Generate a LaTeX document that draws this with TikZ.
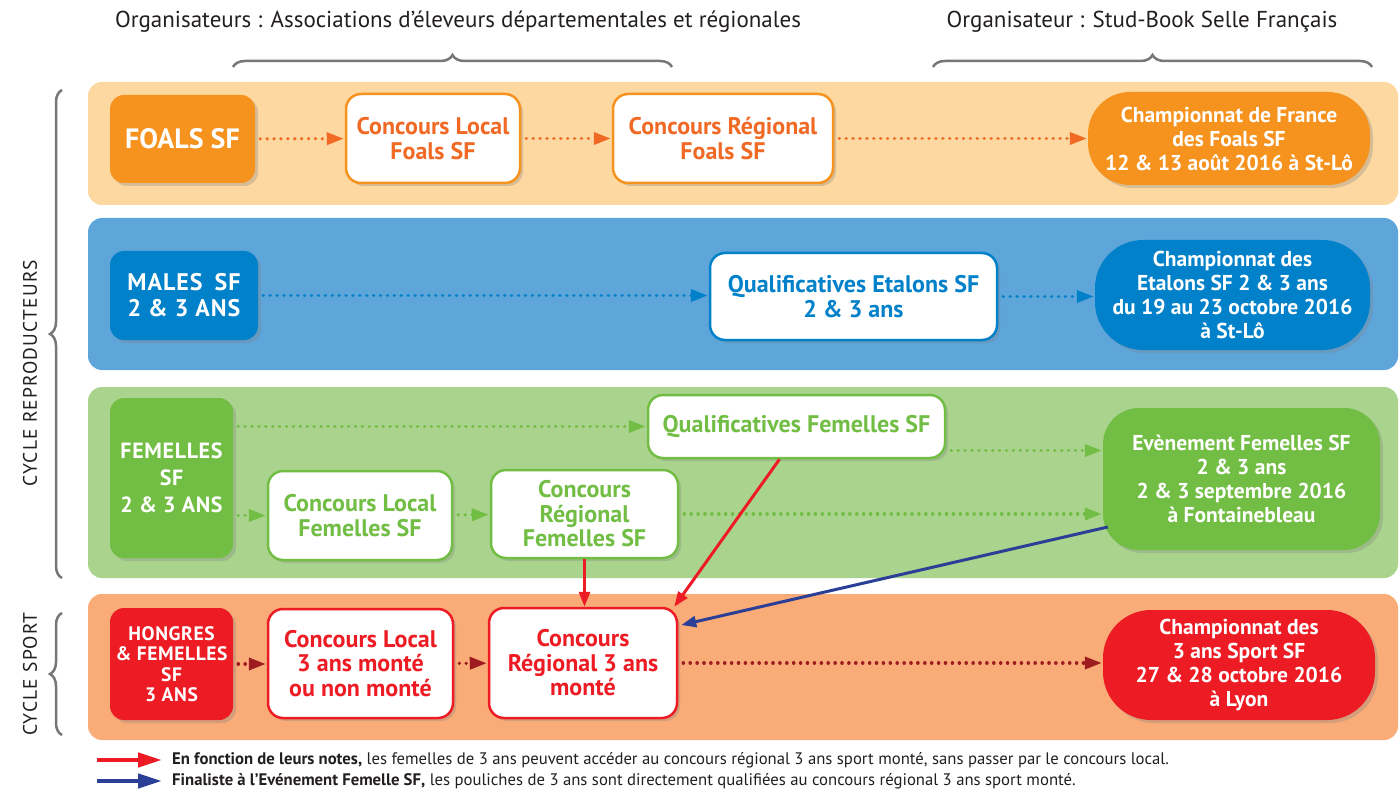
\documentclass[tikz,border=0pt]{standalone}
\usepackage{fontspec}
\setmainfont{PT Sans}
\usetikzlibrary{arrows.meta,shadows,decorations.pathreplacing,calc}

\definecolor{bandorange}{HTML}{FDD8A0}
\definecolor{bandblue}{HTML}{5EA5DA}
\definecolor{bandgreen}{HTML}{AAD48D}
\definecolor{bandsalmon}{HTML}{F9AC78}
\definecolor{foalorange}{HTML}{F6921E}
\definecolor{foaltext}{HTML}{F06A25}
\definecolor{maleblue}{HTML}{0081C9}
\definecolor{femgreen}{HTML}{72BD44}
\definecolor{sportred}{HTML}{ED1C24}
\definecolor{sportdark}{HTML}{9E1B20}
\definecolor{finalblue}{HTML}{2B3F97}
\definecolor{bracegray}{HTML}{777777}
\definecolor{inkgray}{HTML}{231F20}

\begin{document}
\begin{tikzpicture}[x=1pt,y=-1pt,
  band/.style={rounded corners=14pt},
  srcbox/.style={rounded corners=14pt, align=center, text=white, inner sep=0pt,
    drop shadow={opacity=0.3, shadow xshift=3pt, shadow yshift=-3pt}},
  stepbox/.style={draw, line width=2.5pt, fill=white, rounded corners=15pt, align=center, inner sep=0pt,
    font=\fontsize{24}{24.5}\selectfont\bfseries,
    drop shadow={opacity=0.3, shadow xshift=3pt, shadow yshift=-3pt}},
  finalbox/.style={rounded corners=42pt, align=center, text=white, inner sep=0pt,
    font=\fontsize{21.5}{24}\selectfont\bfseries,
    drop shadow={opacity=0.3, shadow xshift=3pt, shadow yshift=-3pt}},
  flow/.style={line width=3.5pt, line cap=round, dash pattern=on 0.1pt off 6.8pt,
    -{Triangle[length=17pt,width=12pt]}, shorten <=5pt, shorten >=1pt},
  jump/.style={line width=3pt, -{Triangle[length=15pt,width=11pt]}},
  keyarrow/.style={line width=4.5pt, -{Triangle[length=24pt,width=14pt]}},
  cyclebrace/.style={decorate, decoration={brace, amplitude=12pt}, line width=2.5pt, color=bracegray},
]
\useasboundingbox (0,0) rectangle (1399,791);
\fill[white] (0,0) rectangle (1399,791);
% Drawing headers and braces
\node[text=inkgray, font=\fontsize{23}{26}\selectfont] (orgassoc) at (458,22) {Organisateurs : Associations d’éleveurs départementales et régionales};
\node[text=inkgray, font=\fontsize{23}{26}\selectfont] (orgsf) at (1142,22) {Organisateur : Stud-Book Selle Français};
\draw[cyclebrace] (233,67) -- (672,67);
\draw[cyclebrace] (933,67) -- (1372,67);
\draw[cyclebrace] (62,578) -- (62,90);
\draw[cyclebrace] (62,735) -- (62,613);
\node[rotate=90, text=inkgray, font=\fontsize{19.5}{22}\selectfont\addfontfeatures{LetterSpace=6}] (cyclerepro) at (30,373) {CYCLE REPRODUCTEURS};
\node[rotate=90, text=inkgray, font=\fontsize{19.5}{22}\selectfont\addfontfeatures{LetterSpace=6}] (cyclesport) at (30,674) {CYCLE SPORT};
% Done with headers; drawing bands
\fill[band, bandorange] (88,82) rectangle (1398,205);
\fill[band, bandblue] (88,218) rectangle (1398,370);
\fill[band, bandgreen] (88,387) rectangle (1398,578);
\fill[band, bandsalmon] (88,594) rectangle (1398,740);
% Row 1: foals
\node[srcbox, fill=foalorange, minimum width=145pt, minimum height=88pt, font=\fontsize{28}{30}\selectfont\bfseries] (foals) at (182.5,139) {FOALS SF};
\node[stepbox, draw=foalorange, text=foaltext, minimum width=174pt, minimum height=89pt] (locfoals) at (433,138.5) {Concours Local\\Foals SF};
\node[stepbox, draw=foalorange, text=foaltext, minimum width=220pt, minimum height=89pt] (regfoals) at (723,138.5) {Concours Régional\\Foals SF};
\node[finalbox, fill=foalorange, minimum width=282pt, minimum height=93pt] (champfoals) at (1229,138.5) {Championnat de France\\des Foals SF\\12 \& 13 août 2016 à St-Lô};
\draw[flow, foaltext] (foals) -- (locfoals);
\draw[flow, foaltext] (locfoals) -- (regfoals);
\draw[flow, foaltext] (regfoals) -- (champfoals);
% Row 2: males
\node[srcbox, fill=maleblue, minimum width=148pt, minimum height=89pt, font=\fontsize{24}{26}\selectfont\bfseries\addfontfeatures{LetterSpace=4}] (males) at (184,295.5) {MALES\enspace SF\\2 \& 3 ANS};
\node[stepbox, draw=maleblue, text=maleblue, minimum width=287pt, minimum height=87pt] (qualetalons) at (853.5,296.5) {Qualificatives Etalons SF\\2 \& 3 ans};
\node[finalbox, fill=maleblue, minimum width=275pt, minimum height=110pt, rounded corners=48pt] (champetalons) at (1232.5,295) {Championnat des\\Etalons SF 2 \& 3 ans\\du 19 au 23 octobre 2016\\à St-Lô};
\draw[flow, maleblue] (males) -- (males -| qualetalons.west);
\draw[flow, maleblue] (qualetalons) -- (qualetalons -| champetalons.west);
% Row 3: femelles
\node[srcbox, fill=femgreen, minimum width=123pt, minimum height=160pt, font=\fontsize{22}{27}\selectfont\bfseries\addfontfeatures{LetterSpace=3}] (femelles) at (171.5,478) {FEMELLES\\SF\\2 \& 3 ANS};
\node[stepbox, draw=femgreen, text=femgreen, minimum width=297pt, minimum height=63pt] (qualfem) at (796.5,426.5) {Qualificatives Femelles SF};
\node[stepbox, draw=femgreen, text=femgreen, minimum width=184pt, minimum height=89pt] (locfem) at (360,515.5) {Concours Local\\Femelles SF};
\node[stepbox, draw=femgreen, text=femgreen, minimum width=187pt, minimum height=88pt] (regfem) at (584.5,514) {Concours\\Régional\\Femelles SF};
\node[finalbox, fill=femgreen, minimum width=277pt, minimum height=142pt, rounded corners=36pt] (evtfem) at (1241.5,479) {Evènement Femelles SF\\2 \& 3 ans\\2 \& 3 septembre 2016\\à Fontainebleau};
\coordinate (qualfemout) at ($(qualfem.east)+(0,24)$);
\draw[flow, femgreen] (femelles.east |- qualfem.west) -- (qualfem.west);
\draw[flow, femgreen] (qualfemout) -- (qualfemout -| evtfem.west);
\draw[flow, femgreen] (femelles.east |- locfem.west) -- (locfem.west);
\draw[flow, femgreen] (locfem) -- (regfem);
\draw[flow, femgreen] (regfem) -- (regfem -| evtfem.west);
% Row 4: sport
\node[srcbox, fill=sportred, minimum width=123pt, minimum height=112pt, font=\fontsize{19.5}{20.5}\selectfont\bfseries\addfontfeatures{LetterSpace=3}] (hongres) at (171.5,664) {HONGRES\\\& FEMELLES\\SF\\3 ANS};
\node[stepbox, draw=sportred, text=sportred, minimum width=185pt, minimum height=109pt] (locsport) at (360.5,663.5) {Concours Local\\3 ans monté\\ou non monté};
\node[stepbox, draw=sportred, text=sportred, minimum width=188pt, minimum height=110pt] (regsport) at (583,663) {Concours\\Régional 3 ans\\monté};
\node[finalbox, fill=sportred, minimum width=272pt, minimum height=110pt, rounded corners=48pt] (champsport) at (1239,665) {Championnat des\\3 ans Sport SF\\27 \& 28 octobre 2016\\à Lyon};
\draw[flow, sportdark] (hongres) -- (hongres -| locsport.west);
\draw[flow, sportdark] (locsport) -- (regsport);
\draw[flow, sportdark] (regsport) -- (regsport -| champsport.west);
% Done with rows; drawing shortcuts
\draw[jump, sportred] (regfem.south) -- (regfem.south |- regsport.north);
\draw[jump, sportred] ([xshift=-17pt]qualfem.south) -- ([xshift=-4pt]regsport.north east);
\draw[jump, finalblue] ($(evtfem.west)+(5,48)$) -- ($(regsport.east)+(3,-38)$);
% Done with shortcuts; drawing key
\coordinate (keyreda) at (97,760);
\coordinate (keyredb) at (162,760);
\coordinate (keybluea) at (97,781);
\coordinate (keyblueb) at (162,781);
\draw[keyarrow, sportred] (keyreda) -- (keyredb);
\draw[keyarrow, finalblue] (keybluea) -- (keyblueb);
\node[anchor=west, text=inkgray, font=\fontsize{16.7}{18}\selectfont, inner sep=0pt] (keyred) at (172,760) {\textbf{En fonction de leurs notes,} les femelles de 3 ans peuvent accéder au concours régional 3 ans sport monté, sans passer par le concours local.};
\node[anchor=west, text=inkgray, font=\fontsize{16.7}{18}\selectfont, inner sep=0pt] (keyblue) at (172,781) {\textbf{Finaliste à l’Evénement Femelle SF,} les pouliches de 3 ans sont directement qualifiées au concours régional 3 ans sport monté.};
% Done with key
\end{tikzpicture}
\end{document}
